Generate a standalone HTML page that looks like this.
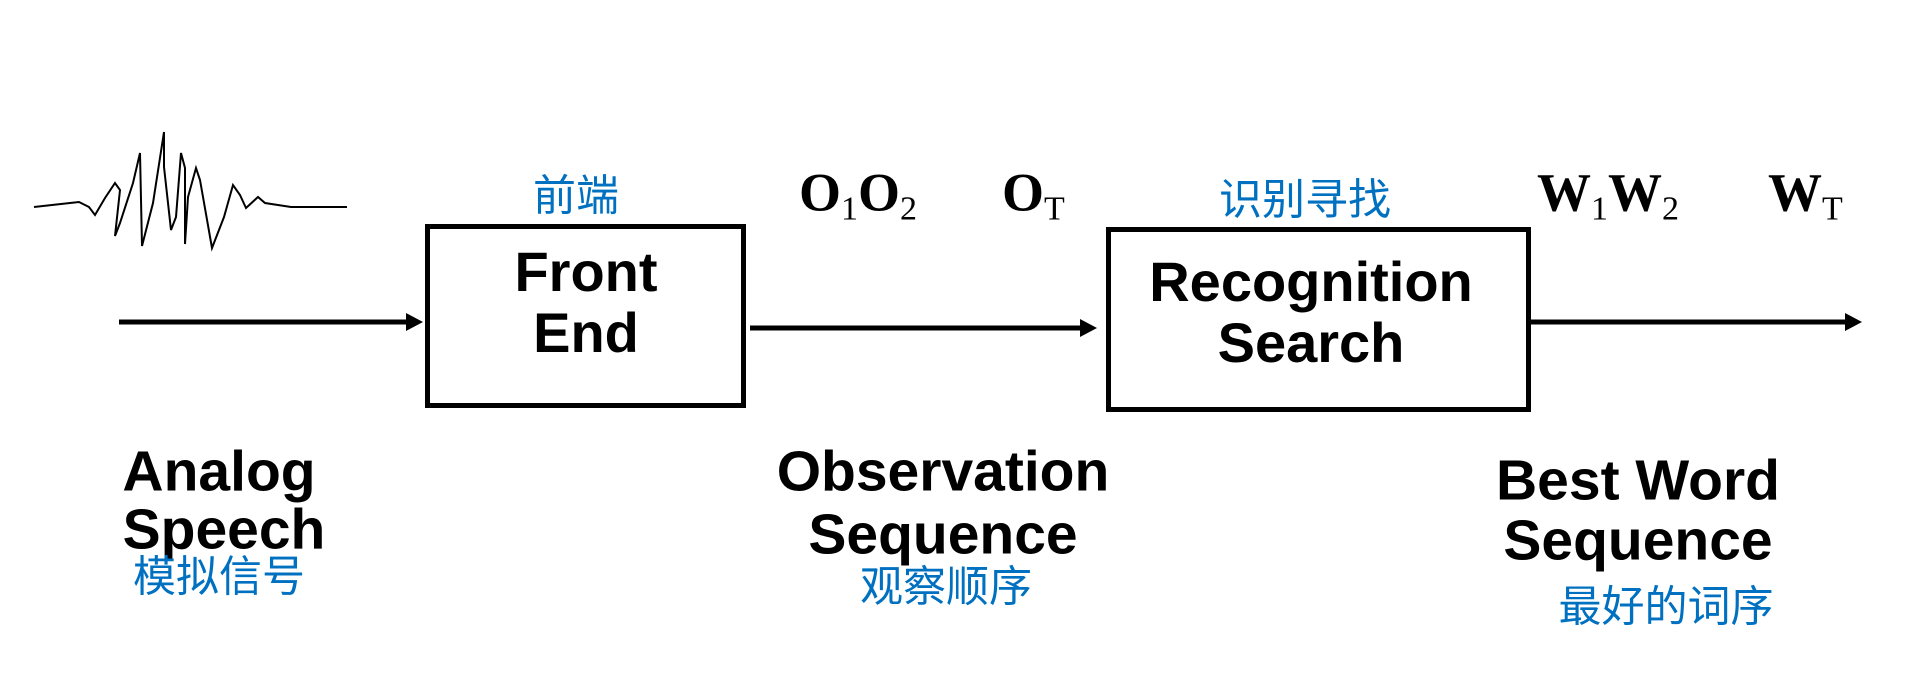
<!DOCTYPE html>
<html><head><meta charset="utf-8"><style>
html,body{margin:0;padding:0;background:#fff;}
body{width:1921px;height:696px;position:relative;overflow:hidden;}
.t{position:absolute;font-family:"Liberation Sans","Noto Sans CJK SC",sans-serif;font-weight:bold;color:#000;white-space:nowrap;transform:translate(-50%,-50%);line-height:1;}
.c{position:absolute;font-family:"Liberation Sans","Noto Sans CJK SC",sans-serif;color:#0070C0;white-space:nowrap;transform:translate(-50%,-50%);line-height:1;font-size:43px;}
.m{position:absolute;font-family:"Liberation Serif",serif;font-weight:bold;font-size:54px;white-space:nowrap;transform:translateY(-50%);line-height:1;}
.m sub{font-size:34px;font-weight:normal;vertical-align:-9px;}
</style></head><body>
<svg width="1921" height="696" style="position:absolute;left:0;top:0">
<polyline fill="none" stroke="#000" stroke-width="2" points="34,207 61,204 79,202 89,207 95,215 105,198 115,183 120,190 115,236 120,223 133,183 140,153 142,246 153,203 164,132 164,167 171,230 176,217 181,153 185,168 185,244 188,197 196,168 200,180 212,248 224,217 233,185 240,195 246,208 258,197 265,203 291,207 347,207"/>
<rect x="427.5" y="226.5" width="316" height="179" fill="none" stroke="#000" stroke-width="5"/>
<rect x="1108.5" y="229.5" width="420" height="180" fill="none" stroke="#000" stroke-width="5"/>
<line x1="119" y1="322" x2="408" y2="322" stroke="#000" stroke-width="5"/>
<polygon points="406,313 423,322 406,331" fill="#000"/>
<line x1="750" y1="328" x2="1082" y2="328" stroke="#000" stroke-width="5"/>
<polygon points="1080,319 1097,328 1080,337" fill="#000"/>
<line x1="1531" y1="322" x2="1847" y2="322" stroke="#000" stroke-width="5"/>
<polygon points="1845,313 1862,322 1845,331" fill="#000"/>
</svg>
<div class="c" style="left:576px;top:197px">前端</div>
<div class="t" style="left:586px;top:272px;font-size:56px">Front</div>
<div class="t" style="left:586px;top:333px;font-size:56px">End</div>
<div class="c" style="left:1305px;top:201px">识别寻找</div>
<div class="t" style="left:1311px;top:282px;font-size:56px">Recognition</div>
<div class="t" style="left:1311px;top:343px;font-size:56px">Search</div>
<div class="m" style="left:799px;top:196px">O<sub>1</sub>O<sub>2</sub></div>
<div class="m" style="left:1002px;top:196px">O<sub>T</sub></div>
<div class="m" style="left:1537px;top:196px">W<sub>1</sub>W<sub>2</sub></div>
<div class="m" style="left:1768px;top:196px">W<sub>T</sub></div>
<div class="t" style="left:219px;top:472px;font-size:57px">Analog</div>
<div class="t" style="left:224px;top:530px;font-size:57px">Speech</div>
<div class="c" style="left:219px;top:578px">模拟信号</div>
<div class="t" style="left:943px;top:472px;font-size:57px">Observation</div>
<div class="t" style="left:943px;top:535px;font-size:57px">Sequence</div>
<div class="c" style="left:946px;top:588px">观察顺序</div>
<div class="t" style="left:1638px;top:481px;font-size:57px">Best Word</div>
<div class="t" style="left:1638px;top:541px;font-size:57px">Sequence</div>
<div class="c" style="left:1666px;top:608px">最好的词序</div>
</body></html>
